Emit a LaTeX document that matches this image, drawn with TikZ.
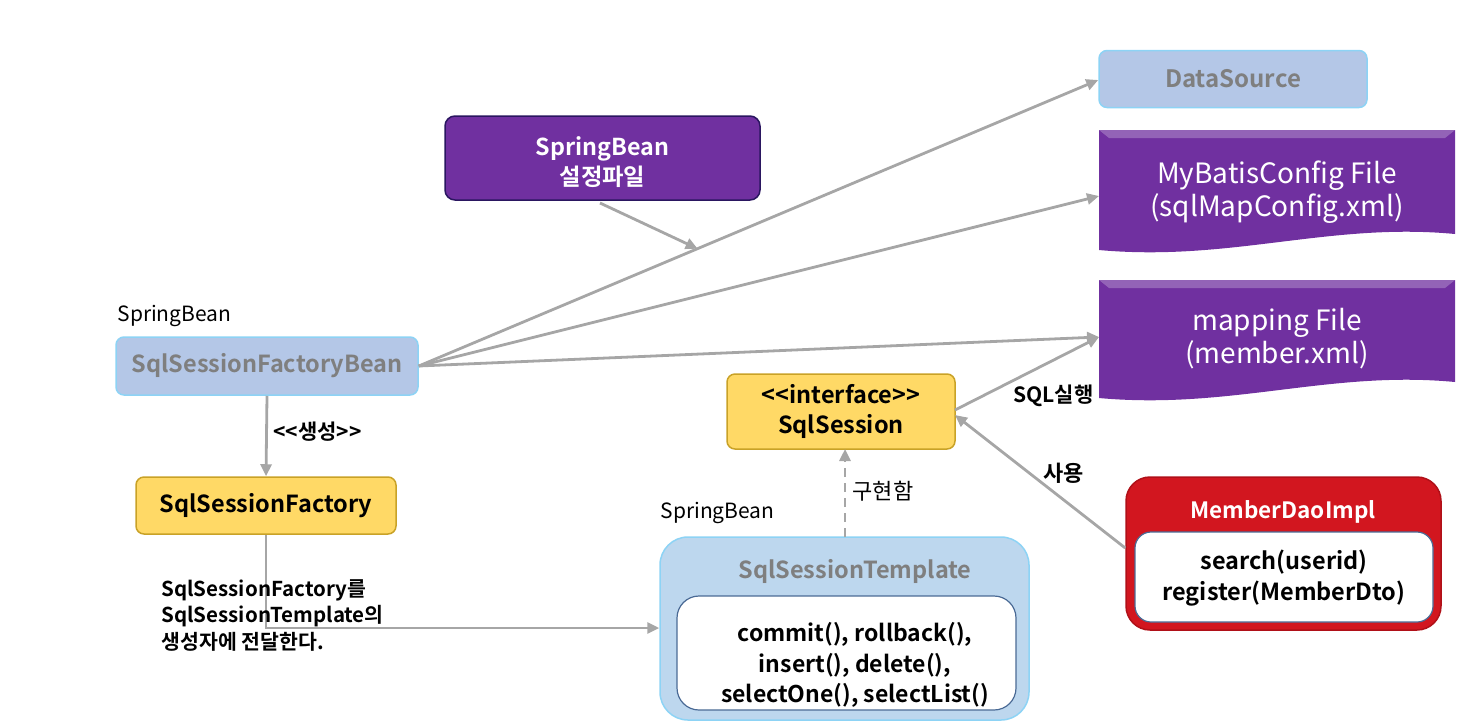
\documentclass[tikz,border=0pt]{standalone}
\usepackage{fontspec}
\setmainfont{Noto Sans CJK KR}[BoldFont={Noto Sans CJK KR Bold}]
\usetikzlibrary{arrows.meta,calc}
\definecolor{lblue}{HTML}{B4C7E7}
\definecolor{lbborder}{HTML}{8DD3F5}
\definecolor{tplfill}{HTML}{BDD7EE}
\definecolor{purp}{HTML}{7030A0}
\definecolor{purpdark}{HTML}{2A1660}
\definecolor{yel}{HTML}{FFD966}
\definecolor{yelborder}{HTML}{C9A227}
\definecolor{redbox}{HTML}{D2161F}
\definecolor{redborder}{HTML}{B01018}
\definecolor{conn}{HTML}{A6A6A6}
\definecolor{graytext}{HTML}{7F7F7F}
\definecolor{innerborder}{HTML}{4A6A95}
\newcommand{\lt}{<\kern0pt}
\newcommand{\gt}{>\kern0pt}
\tikzset{
  lbbox/.style={draw=lbborder, line width=1.5pt, fill=lblue, rounded corners=8pt, text=graytext, font=\fontsize{23.5}{26}\selectfont\bfseries},
  ybox/.style={draw=yelborder, line width=1.5pt, fill=yel, rounded corners=8pt, text=black, font=\fontsize{23.5}{30}\selectfont\bfseries, align=center},
  pbox/.style={draw=purpdark, line width=1.5pt, fill=purp, rounded corners=10pt},
  doctext/.style={text=white, font=\fontsize{28}{33}\selectfont, align=center},
  lbl/.style={text=black, font=\fontsize{21}{25}\selectfont, align=left},
  klbl/.style={text=black, font=\fontsize{21}{25}\selectfont\bfseries},
  conarrow/.style={draw=conn, line width=2.8pt, -{Triangle[length=12pt,width=11pt]}},
}
\begin{document}
\begin{tikzpicture}[x=1pt,y=-1pt]
\useasboundingbox (0,0) rectangle (1472,724);

% DataSource
\node[lbbox, minimum width=268pt, minimum height=57pt, font=\fontsize{24}{26}\selectfont\bfseries] (ds) at (1233,79) {DataSource};

% SpringBean config file
\node[pbox, minimum width=315pt, minimum height=84pt] (sbc) at (602.5,158) {};
\node[text=white, font=\fontsize{23.3}{30}\selectfont\bfseries, align=center] (sbct) at (602.5,162) {SpringBean\\설정파일};

% MyBatisConfig document shape
\fill[purp] (1099,130) -- (1455,130) -- (1455,234)
  .. controls (1330,222) and (1230,262) .. (1099,250) -- cycle;
\fill[white, opacity=0.25] (1099,130) -- (1455,130) -- (1445,138) -- (1109,138) -- cycle;
\node[doctext] (mb) at (1277,192) {MyBatisConfig File\\(sqlMapConfig.xml)};
\coordinate (mbw) at (1099,196);

% mapping document shape
\fill[purp] (1099,280) -- (1455,280) -- (1455,382)
  .. controls (1330,370) and (1230,410) .. (1099,398) -- cycle;
\fill[white, opacity=0.25] (1099,280) -- (1455,280) -- (1445,288) -- (1109,288) -- cycle;
\node[doctext] (mp) at (1277,339) {mapping File\\(member.xml)};
\coordinate (mpw) at (1099,337);

% SqlSessionFactoryBean
\node[lbl, anchor=west] (sb1) at (114,316) {SpringBean};
\node[lbbox, minimum width=302pt, minimum height=58pt] (sfb) at (267,366) {SqlSessionFactoryBean};

% SqlSessionFactory
\node[ybox, minimum width=260pt, minimum height=57pt] (sf) at (266,505.5) {SqlSessionFactory};

% SqlSession
\node[ybox, minimum width=228pt, minimum height=75pt] (ss) at (841,411.5) {\lt\lt interface\gt\gt\\SqlSession};

% SqlSessionTemplate
\node[lbl, anchor=west] (sb2) at (657,513) {SpringBean};
\node[draw=lbborder, line width=1.5pt, fill=tplfill, rounded corners=28pt, minimum width=369pt, minimum height=183pt] (tpl) at (844.5,628.5) {};
\node[text=graytext, font=\fontsize{23.5}{26}\selectfont\bfseries] (tplt) at (855,571) {SqlSessionTemplate};
\node[draw=innerborder, line width=1.2pt, fill=white, rounded corners=22pt, minimum width=339pt, minimum height=114pt, inner sep=0pt] (tpli) at (846.5,653) {};
\node[align=center, font=\fontsize{23}{30.5}\selectfont\bfseries] (tplm) at (855,665) {commit(), rollback(),\\insert(), delete(),\\selectOne(), selectList()};

% MemberDaoImpl
\node[draw=redborder, line width=1.5pt, fill=redbox, rounded corners=24pt, minimum width=315pt, minimum height=153pt] (dao) at (1283.5,553.5) {};
\node[text=white, font=\fontsize{22.5}{26}\selectfont\bfseries] (daot) at (1283,512) {MemberDaoImpl};
\node[draw=innerborder, line width=1.2pt, fill=white, rounded corners=16pt, minimum width=298pt, minimum height=90pt, inner sep=0pt] (daoi) at (1284,577) {};
\node[align=center, font=\fontsize{23.5}{31}\selectfont\bfseries] (daom) at (1284,578) {search(userid)\\register(MemberDto)};

% connectors from SqlSessionFactoryBean
\draw[conarrow] (sfb.east) -- (ds.west |- 0,80);
\draw[conarrow] (sfb.east) -- (mbw);
\draw[conarrow] (sfb.east) -- (mpw);
\coordinate (onds) at ($(sfb.east)!0.41!(1099,80)$);
\draw[conarrow] (600,203) -- (onds);

% creation
\draw[conarrow] (sfb.south) -- (sf.north);
\node[klbl, anchor=west] (gen) at (270,432) {\lt\lt 생성\gt\gt};

% factory to template
\draw[conarrow] (sf.south) -- (sf.south |- 0,628) -- (tpl.west |- 0,628);
\node[lbl, anchor=north west, font=\fontsize{20.5}{26.5}\selectfont\bfseries] (pass) at (158,576) {SqlSessionFactory를\\SqlSessionTemplate의\\생성자에 전달한다.};

% implements
\draw[conarrow, dash pattern=on 9pt off 6pt] (845,537) -- (845,449);
\node[klbl, anchor=west, font=\fontsize{22}{25}\selectfont] (impl) at (849,491) {구현함};

% SQL run
\draw[conarrow] (955,410) -- (mpw);
\node[klbl, anchor=west] (sqlrun) at (1010,396) {SQL실행};

% use
\draw[conarrow] (dao.west |- 0,548) -- (955,415);
\node[klbl, anchor=west, font=\fontsize{22}{25}\selectfont\bfseries] (use) at (1040,473) {사용};
\end{tikzpicture}
\end{document}
